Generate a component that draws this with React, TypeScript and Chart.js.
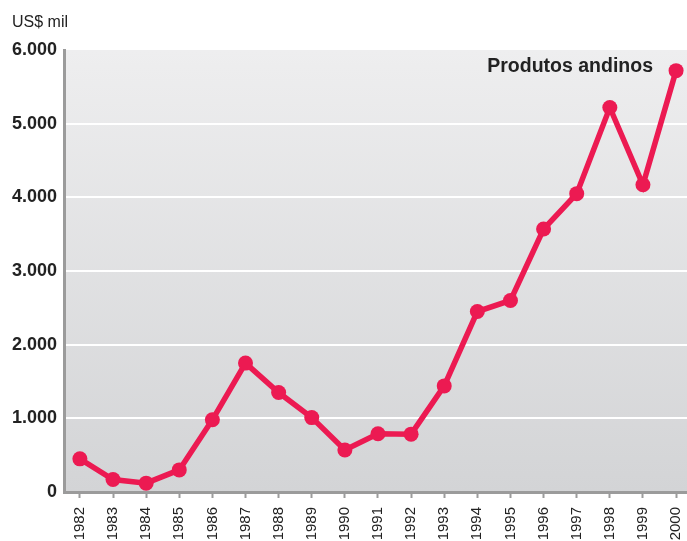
import React, { useEffect, useRef } from "react";
import { Chart, registerables } from "chart.js";

Chart.register(...registerables);

const years: number[] = [1982, 1983, 1984, 1985, 1986, 1987, 1988, 1989, 1990, 1991, 1992, 1993, 1994, 1995, 1996, 1997, 1998, 1999, 2000];
const values: number[] = [450, 170, 120, 300, 980, 1750, 1350, 1010, 570, 790, 785, 1440, 2450, 2600, 3570, 4050, 5220, 4170, 5720];
const yTicks: number[] = [0, 1000, 2000, 3000, 4000, 5000, 6000];
const unitLabel = "US$ mil";
const seriesLabel = "Produtos andinos";

const FONT = "'Liberation Sans', Arial, Helvetica, sans-serif";
const LINE_COLOR = "#ec1a52";

function fmt(v: number): string {
  if (v === 0) return "0";
  const s = String(Math.round(v));
  return s.replace(/\B(?=(\d{3})+(?!\d))/g, ".");
}

const bgPlugin = {
  id: "bgPlugin",
  beforeDraw(chart: any) {
    const { ctx, chartArea } = chart;
    if (!chartArea) return;
    ctx.save();
    const g = ctx.createLinearGradient(0, chartArea.top, 0, chartArea.bottom);
    g.addColorStop(0, "#eeeeef");
    g.addColorStop(1, "#d3d4d6");
    ctx.fillStyle = g;
    ctx.fillRect(chartArea.left, chartArea.top, chartArea.right - chartArea.left, chartArea.bottom - chartArea.top);
    ctx.restore();
  },
  afterDraw(chart: any) {
    const { ctx } = chart;
    ctx.save();
    ctx.fillStyle = "#222222";
    ctx.textBaseline = "alphabetic";
    ctx.textAlign = "left";
    ctx.font = `16px ${FONT}`;
    ctx.fillText(unitLabel, 12, 27);
    ctx.font = `bold 19.5px ${FONT}`;
    ctx.textAlign = "right";
    ctx.fillText(seriesLabel, 653, 72);
    ctx.restore();
  },
};

export default function App() {
  const ref = useRef<HTMLCanvasElement | null>(null);
  useEffect(() => {
    const canvas = ref.current;
    if (!canvas) return;
    const chart = new Chart(canvas, {
      type: "line",
      data: {
        datasets: [
          {
            label: seriesLabel,
            data: years.map((y, i) => ({ x: y, y: values[i] })),
            borderColor: LINE_COLOR,
            backgroundColor: LINE_COLOR,
            borderWidth: 5.5,
            pointRadius: 7.5,
            pointBackgroundColor: LINE_COLOR,
            pointBorderWidth: 0,
            tension: 0,
            clip: false,
          },
        ],
      },
      options: {
        responsive: false,
        animation: false,
        devicePixelRatio: 1,
        layout: { autoPadding: false, padding: { top: 50, left: 0, right: 0, bottom: 0 } },
        plugins: {
          legend: { display: false },
          tooltip: { enabled: false },
        },
        scales: {
          x: {
            type: "linear",
            min: 1981.52,
            max: 2000.33,
            afterBuildTicks: (scale: any) => {
              scale.ticks = years.map((v) => ({ value: v }));
            },
            afterFit: (scale: any) => {
              scale.height = 49;
              scale.paddingLeft = 0;
              scale.paddingRight = 0;
            },
            grid: {
              drawOnChartArea: false,
              drawTicks: true,
              tickLength: 6,
              tickWidth: 2,
              tickColor: "#9b9b9b",
            },
            border: { display: true, color: "#9b9b9b", width: 3 },
            ticks: {
              autoSkip: false,
              minRotation: 90,
              maxRotation: 90,
              padding: 9,
              color: "#222222",
              font: { family: FONT, size: 15 },
              callback: (v: any) => String(v),
            },
          },
          y: {
            type: "linear",
            min: 0,
            max: 6000,
            afterBuildTicks: (scale: any) => {
              scale.ticks = yTicks.map((v) => ({ value: v }));
            },
            afterFit: (scale: any) => {
              scale.width = 64;
            },
            grid: {
              drawTicks: false,
              lineWidth: 2,
              color: (c: any) => (c.tick && (c.tick.value === 0 || c.tick.value === 6000) ? "rgba(0,0,0,0)" : "#ffffff"),
            },
            border: { display: true, color: "#9b9b9b", width: 3 },
            ticks: {
              padding: 7,
              color: "#222222",
              font: { family: FONT, size: 18, weight: "bold" },
              callback: (v: any) => fmt(Number(v)),
            },
          },
        },
      },
      plugins: [bgPlugin],
    } as any);
    return () => chart.destroy();
  }, []);
  return (
    <div style={{ position: "fixed", left: 0, top: 0, width: 687, height: 541, overflow: "hidden", background: "#ffffff" }}>
      <canvas ref={ref} width={687} height={541} style={{ display: "block", width: 687, height: 541 }} />
    </div>
  );
}
